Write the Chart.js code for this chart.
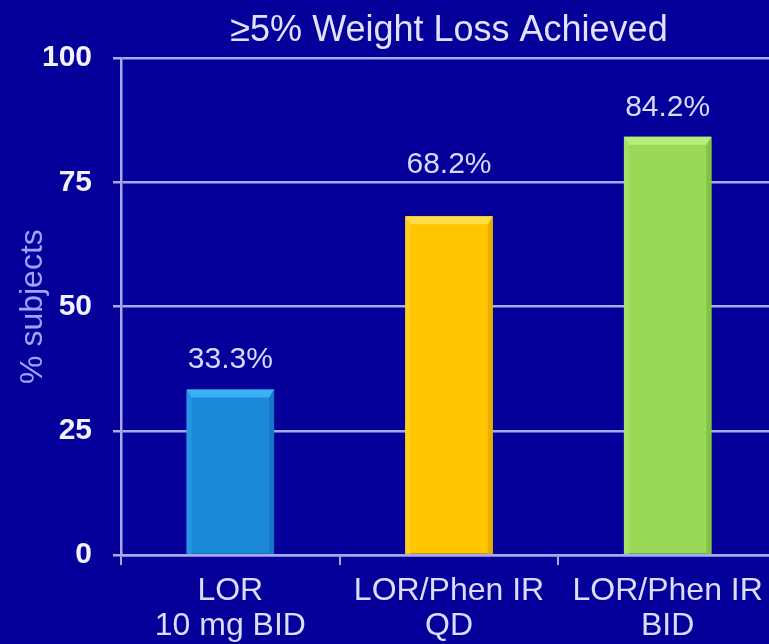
<!DOCTYPE html>
<html>
<head>
<meta charset="utf-8">
<script src="https://cdn.jsdelivr.net/npm/chart.js@4.4.1/dist/chart.umd.min.js"></script>
<style>
  html, body { margin: 0; padding: 0; overflow: hidden; background: #05009a; }
  canvas { display: block; }
</style>
</head>
<body>
<canvas id="chart" width="777" height="644"></canvas>
<script>
// Treatment groups (two-line axis labels)
const categories = [
  ["LOR", "10 mg BID"],
  ["LOR/Phen IR", "QD"],
  ["LOR/Phen IR", "BID"]
];
// Share of subjects reaching at least 5% weight loss
const percentAchieved = [33.3, 68.2, 84.2];
// Value-axis ticks
const yTicks = [0, 25, 50, 75, 100];

const FONT = "'Liberation Sans', Arial, Helvetica, sans-serif";
const GRID = "#a9a9ee";

// Bar fills and the lighter/darker faces of the bevel
const barFill  = ["#1a89d8", "#ffc600", "#99d957"];
const bevelTop = ["#3cb0f6", "#ffdc4a", "#b6ec7c"];
const bevelL   = ["#2596e2", "#ffcf1e", "#a4e166"];
const bevelR   = ["#1677c4", "#e8ae00", "#80c342"];

// Paint the canvas background
const background = {
  id: "background",
  beforeDraw(chart) {
    const { ctx, width, height } = chart;
    ctx.save();
    ctx.fillStyle = "#05009a";
    ctx.fillRect(0, 0, width, height);
    ctx.restore();
  }
};

// Bevelled edges on each bar, using the bar geometry from the chart
const bevel = {
  id: "bevel",
  afterDatasetsDraw(chart, args, opts) {
    const ctx = chart.ctx;
    chart.getDatasetMeta(0).data.forEach((bar, i) => {
      const { x, y, base, width } = bar.getProps(["x", "y", "base", "width"], true);
      const l = x - width / 2, r = x + width / 2;
      const t = opts.top, s = opts.side;
      ctx.save();
      ctx.fillStyle = bevelL[i];
      ctx.beginPath();
      ctx.moveTo(l, y); ctx.lineTo(l + s, y + t); ctx.lineTo(l + s, base); ctx.lineTo(l, base);
      ctx.closePath(); ctx.fill();
      ctx.fillStyle = bevelR[i];
      ctx.beginPath();
      ctx.moveTo(r, y); ctx.lineTo(r - s, y + t); ctx.lineTo(r - s, base); ctx.lineTo(r, base);
      ctx.closePath(); ctx.fill();
      ctx.fillStyle = bevelTop[i];
      ctx.beginPath();
      ctx.moveTo(l, y); ctx.lineTo(r, y); ctx.lineTo(r - s, y + t); ctx.lineTo(l + s, y + t);
      ctx.closePath(); ctx.fill();
      ctx.restore();
    });
  }
};

// Percentage labels above the bars
const valueLabels = {
  id: "valueLabels",
  afterDatasetsDraw(chart, args, opts) {
    const ctx = chart.ctx;
    const values = chart.data.datasets[0].data;
    chart.getDatasetMeta(0).data.forEach((bar, i) => {
      ctx.save();
      ctx.font = `${opts.size}px ${FONT}`;
      ctx.fillStyle = opts.color;
      ctx.textAlign = "center";
      ctx.textBaseline = "middle";
      ctx.fillText(values[i].toFixed(1) + "%", bar.x, bar.y - opts.lift[i]);
      ctx.restore();
    });
  }
};

new Chart(document.getElementById("chart"), {
  type: "bar",
  data: {
    labels: categories,
    datasets: [{
      data: percentAchieved,
      backgroundColor: barFill,
      borderWidth: 0,
      categoryPercentage: 1,
      barPercentage: 0.4
    }]
  },
  options: {
    responsive: false,
    animation: false,
    layout: { padding: 0 },
    plugins: {
      legend: { display: false },
      tooltip: { enabled: false },
      title: {
        display: true,
        fullSize: false,
        text: "≥5% Weight Loss Achieved",
        color: "#e2e2ff",
        font: { family: FONT, size: 36, weight: "normal", lineHeight: 1.2 },
        padding: { top: 9, bottom: 6 }
      },
      bevel: { top: 8, side: 5 },
      valueLabels: { size: 30, color: "#d8d8ff", lift: [30, 51, 29] }
    },
    scales: {
      x: {
        afterFit(scale) { scale.height = 89; },
        grid: {
          offset: true,
          drawOnChartArea: false,
          drawTicks: true,
          tickLength: 10,
          color: GRID,
          lineWidth: 2
        },
        border: { display: true, color: GRID, width: 2.5, z: 1 },
        ticks: {
          color: "#dcdcff",
          font: { family: FONT, size: 32, lineHeight: 1.094 },
          padding: 9,
          maxRotation: 0,
          autoSkip: false
        }
      },
      y: {
        min: 0,
        max: 100,
        afterFit(scale) { scale.width = 121; },
        afterBuildTicks(scale) { scale.ticks = yTicks.map(v => ({ value: v })); },
        grid: { color: GRID, lineWidth: 2.5, tickLength: 8, drawTicks: true },
        border: { display: true, color: GRID, width: 2.5 },
        ticks: {
          color: "#f2f2ff",
          font: { family: FONT, size: 30, weight: "bold" },
          padding: 21
        },
        title: {
          display: true,
          text: "% subjects",
          color: "#a2a2ff",
          font: { family: FONT, size: 32, lineHeight: 1.2 },
          padding: { top: 14, bottom: 0 }
        }
      }
    }
  },
  plugins: [background, bevel, valueLabels]
});
</script>
</body>
</html>
